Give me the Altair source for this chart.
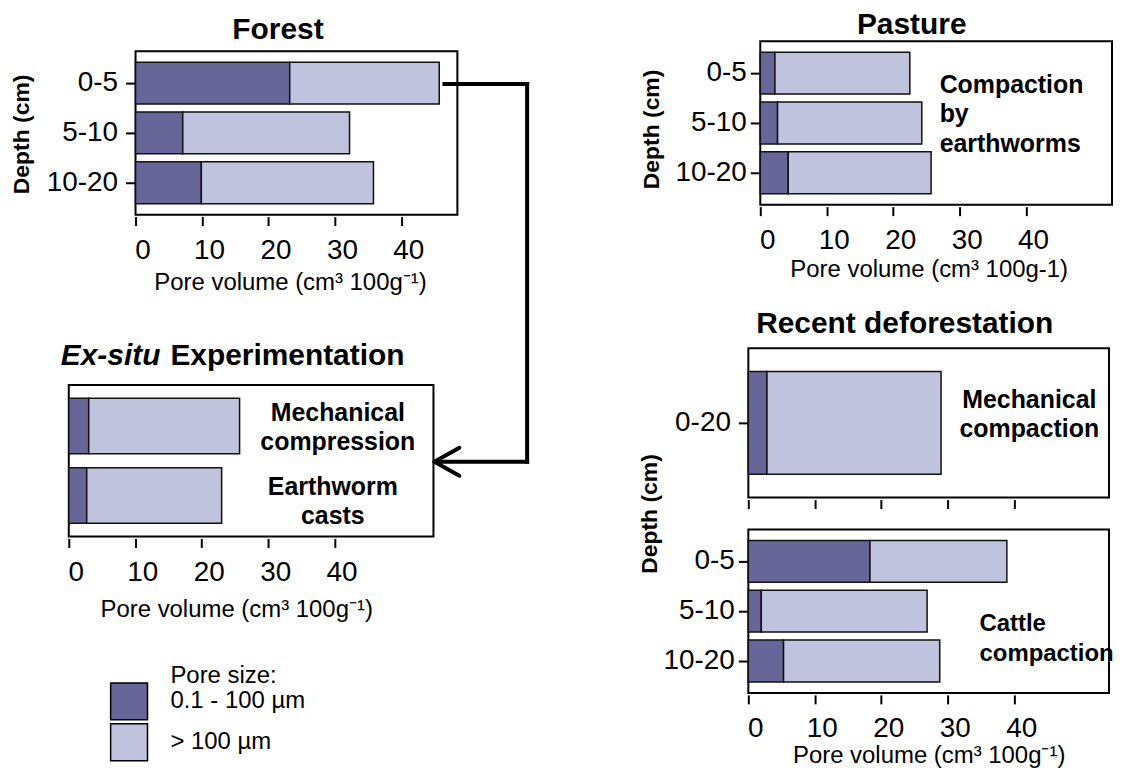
import altair as alt
import pandas as pd

FONT = "Liberation Sans"
DARK = "#666699"
LIGHT = "#c0c3de"
INK = "black"

pore_classes = ["0.1 - 100 µm", "> 100 µm"]

forest_depths = ["0-5", "5-10", "10-20"]
forest_fine = [23.2, 7.1, 9.9]
forest_total = [45.7, 32.2, 35.8]

pasture_depths = ["0-5", "5-10", "10-20"]
pasture_fine = [2.2, 2.6, 4.2]
pasture_total = [22.5, 24.3, 25.7]

exsitu_treatments = ["Mechanical compression", "Earthworm casts"]
exsitu_fine = [3.0, 2.7]
exsitu_total = [25.7, 23.0]

recent_mech_depths = ["0-20"]
recent_mech_fine = [2.8]
recent_mech_total = [29.0]

recent_cattle_depths = ["0-5", "5-10", "10-20"]
recent_cattle_fine = [18.3, 1.95, 5.3]
recent_cattle_total = [38.9, 26.9, 28.8]

x_tick_values = [0, 10, 20, 30, 40]

PX_PER_UNIT = 6.67


def stack_table(cats, fine, total):
    rows = []
    for c, f, t in zip(cats, fine, total):
        rows.append({"cat": c, "pore": pore_classes[0], "x0": 0.0, "x1": f})
        rows.append({"cat": c, "pore": pore_classes[1], "x0": f, "x1": t})
    return pd.DataFrame(rows)


ONE = pd.DataFrame({"k": [0]})


def label(text, x, y, size=25, weight="bold", align="left", style="normal", line=29.5):
    return alt.Chart(ONE).mark_text(
        text=text, font=FONT, fontSize=size, fontWeight=weight, fontStyle=style,
        align=align, baseline="alphabetic", lineHeight=line, color=INK,
    ).encode(x=alt.value(x), y=alt.value(y))


def ghost(x, y, x2, y2):
    # invisible rule that only fixes the extent of a panel for the layout
    return alt.Chart(ONE).mark_rule(opacity=0, strokeOpacity=0).encode(
        x=alt.value(x), y=alt.value(y), x2=alt.value(x2), y2=alt.value(y2)
    )


def spacer():
    return ghost(0, 0, 0, 0).properties(
        width=1, height=1, view=alt.ViewBackground(stroke="transparent", fill="transparent")
    )


def seg(x, y, x2, y2, cap="square"):
    return alt.Chart(ONE).mark_rule(color=INK, strokeWidth=4, strokeCap=cap).encode(
        x=alt.value(x), y=alt.value(y), x2=alt.value(x2), y2=alt.value(y2)
    )


def x_axis(title=None, title_x=0, title_y=0, labels=True):
    kw = dict(values=x_tick_values, domain=False, grid=False, ticks=True, tickSize=9,
              tickWidth=2, tickColor=INK, offset=2, labels=labels)
    if labels:
        kw.update(labelFont=FONT, labelFontSize=28, labelColor=INK, labelBaseline="alphabetic",
                  labelPadding=33, labelOffset=7, labelFlush=False, format="d")
    if title:
        kw.update(title=title, titleFont=FONT, titleFontSize=24, titleFontWeight="normal",
                  titleColor=INK, titleX=title_x, titleY=title_y, titleBaseline="alphabetic",
                  titleAlign="center")
    else:
        kw["title"] = None
    return alt.Axis(**kw)


def y_axis(title=None, title_x=0, title_y=0, pad=6):
    kw = dict(domain=False, grid=False, ticks=True, tickSize=10, tickWidth=2, tickColor=INK,
              labelFont=FONT, labelFontSize=28, labelColor=INK, labelPadding=pad,
              labelBaseline="middle")
    if title:
        kw.update(title=title, titleFont=FONT, titleFontSize=23, titleFontWeight="bold",
                  titleColor=INK, titleX=title_x, titleY=title_y, titleAngle=270,
                  titleAlign="center", titleBaseline="bottom")
    else:
        kw["title"] = None
    return alt.Axis(**kw)


def bars(df, cats, width, xax, yax, pad_inner, pad_outer, legend=None):
    return alt.Chart(df).mark_bar(stroke="#111111", strokeWidth=1.5).encode(
        x=alt.X("x0:Q", scale=alt.Scale(domain=[0, width / PX_PER_UNIT], nice=False, zero=False), axis=xax),
        x2="x1:Q",
        y=alt.Y("cat:N", sort=cats, scale=alt.Scale(paddingInner=pad_inner, paddingOuter=pad_outer), axis=yax),
        color=alt.Color("pore:N", scale=alt.Scale(domain=pore_classes, range=[DARK, LIGHT]), legend=legend),
    )


TITLE = "Pore volume (cm³ 100g⁻¹)"

# Forest
FW, FH = 323, 164
forest = alt.layer(
    bars(stack_table(forest_depths, forest_fine, forest_total), forest_depths, FW,
         x_axis(TITLE, 155, 73), y_axis("Depth (cm)", -102, 83, pad=8), 0.16, 0.22),
    label("Forest", 143, -12, size=30, align="center"),
    ghost(-127, -39, -127, 250),
).properties(width=FW, height=FH)

# Pasture
PW, PH = 353, 164
pasture = alt.layer(
    bars(stack_table(pasture_depths, pasture_fine, pasture_total), pasture_depths, PW,
         x_axis("Pore volume (cm³ 100g-1)", 169, 70), y_axis("Depth (cm)", -97, 88, pad=4), 0.16, 0.22),
    label("Pasture", 152, -7, size=30, align="center"),
    label(["Compaction", "by", "earthworms"], 180, 52),
    ghost(-130, -31, -130, 253),
).properties(width=PW, height=PH)

# Ex-situ
EW, EH = 366, 152
legend = alt.Legend(orient="none", legendX=41, legendY=298, title=None, symbolType="square",
                    symbolSize=1369, symbolStrokeColor=INK, symbolStrokeWidth=1.5, symbolOpacity=1,
                    labelFont=FONT, labelFontSize=24, labelColor=INK, labelOffset=22,
                    rowPadding=-4, padding=0)
exsitu = alt.layer(
    bars(stack_table(exsitu_treatments, exsitu_fine, exsitu_total), exsitu_treatments, EW,
         x_axis(TITLE, 168, 78), None, 0.2, 0.19, legend=legend),
    label("Ex-situ", -8, -20, size=30, style="italic"),
    label("Experimentation", 102, -20, size=30),
    label(["Mechanical", "compression"], 270, 36, align="center"),
    label(["Earthworm", "casts"], 265, 110, align="center"),
    label("Pore size:", 102, 299, size=24, weight="normal"),
    seg(377, -302, 460, -302),
    seg(460, -302, 460, 77),
    seg(460, 77, 369, 77),
    seg(367, 77, 392, 63, cap="round"),
    seg(367, 77, 392, 91, cap="round"),
    ghost(-60, -310, 470, -310),
).properties(width=EW, height=EH)

# Recent deforestation
RW = 362
upper = alt.layer(
    bars(stack_table(recent_mech_depths, recent_mech_fine, recent_mech_total), recent_mech_depths, RW,
         x_axis(labels=False), y_axis(pad=8), 0.16, 0.19),
    label("Recent deforestation", 157, -15, size=30, align="center"),
    label(["Mechanical", "compaction"], 282, 60, align="center"),
    ghost(-118, -47, -118, 0),
).properties(width=RW, height=150)

lower = alt.layer(
    bars(stack_table(recent_cattle_depths, recent_cattle_fine, recent_cattle_total), recent_cattle_depths, RW,
         x_axis(TITLE, 181, 68), y_axis("Depth (cm)", -87, -16, pad=4), 0.16, 0.22),
    label(["Cattle", "compaction"], 232, 102, size=24),
).properties(width=RW, height=164)

forest_row = alt.hconcat(spacer(), forest, spacing=66, bounds="flush").resolve_scale(color="independent")
left_inner = alt.vconcat(forest_row, exsitu, spacing=-227).resolve_scale(color="independent")
left = alt.vconcat(spacer(), left_inner, spacing=-32).resolve_scale(color="independent")

pasture_row = alt.hconcat(spacer(), pasture, spacing=11, bounds="flush").resolve_scale(color="independent")
recent = alt.vconcat(upper, lower, spacing=32, bounds="flush").resolve_scale(color="independent")
right = alt.vconcat(pasture_row, recent, spacing=6).resolve_scale(color="independent")

chart = (
    alt.hconcat(left, right, spacing=92)
    .resolve_scale(color="independent")
    .properties(padding=0)
    .configure(font=FONT)
    .configure_view(stroke=INK, strokeWidth=2, fill="white")
)

chart.save("out.html", embed_options={"renderer": "svg", "actions": False})
